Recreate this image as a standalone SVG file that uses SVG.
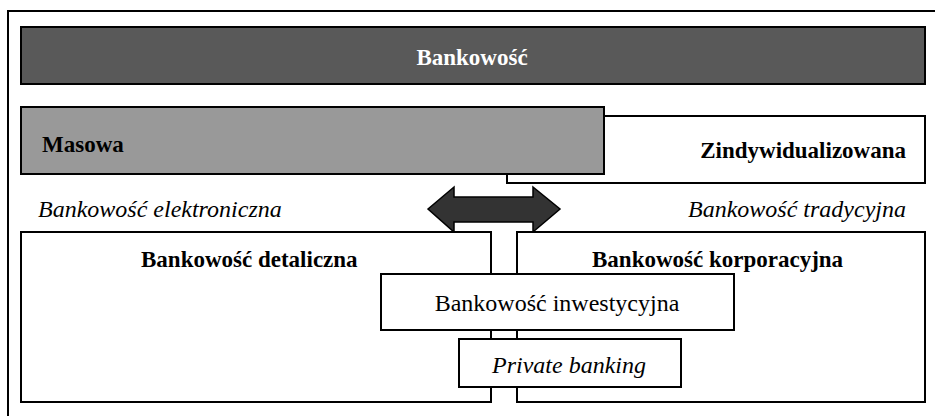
<svg xmlns="http://www.w3.org/2000/svg" width="935" height="416" viewBox="0 0 935 416">
<style>
.box{fill:#fff;stroke:#000;stroke-width:2}
text{font-family:'Liberation Serif','DejaVu Serif',serif}
.b{font-weight:bold;font-size:23px;fill:#000}
.r{font-size:24px;fill:#000}
.i{font-style:italic;font-size:24px;fill:#000}
</style>
<rect x="0" y="0" width="935" height="416" fill="#fff"/>
<rect id="frame" x="8" y="11" width="940" height="420" fill="none" stroke="#000" stroke-width="2"/>
<g id="bankowosc">
<rect x="21" y="27" width="904" height="57" fill="#595959" stroke="#000" stroke-width="2"/>
<text class="b" x="472" y="65" text-anchor="middle" font-family="Liberation Serif, serif" style="fill:#fff">Bankowość</text>
</g>
<g id="zindywidualizowana">
<rect class="box" x="507" y="116" width="418" height="67"/>
<text class="b" x="906" y="158" text-anchor="end" font-family="Liberation Serif, serif">Zindywidualizowana</text>
</g>
<g id="masowa">
<rect x="21" y="107" width="583" height="67" fill="#999" stroke="#000" stroke-width="2"/>
<text class="b" x="42" y="152" font-family="Liberation Serif, serif">Masowa</text>
</g>
<text class="i" x="38" y="217" font-family="Liberation Serif, serif">Bankowość elektroniczna</text>
<text class="i" x="906" y="217" text-anchor="end" font-family="Liberation Serif, serif">Bankowość tradycyjna</text>
<g id="connectors">
<polygon points="428,209 454,187 454,197 533,197 533,187 560,209 533,232 533,222 454,222 454,232" fill="#333" stroke="#000" stroke-width="1.5" stroke-linejoin="miter"/>
</g>
<g id="detaliczna">
<rect class="box" x="21" y="232" width="470" height="170"/>
<text class="b" x="141" y="267" font-family="Liberation Serif, serif">Bankowość detaliczna</text>
</g>
<g id="korporacyjna">
<rect class="box" x="517" y="232" width="408" height="170"/>
<text class="b" x="592" y="267" font-family="Liberation Serif, serif">Bankowość korporacyjna</text>
</g>
<g id="inwestycyjna">
<rect class="box" x="381" y="274" width="353" height="56"/>
<text class="r" x="557" y="311" text-anchor="middle" font-family="Liberation Serif, serif">Bankowość inwestycyjna</text>
</g>
<g id="private">
<rect class="box" x="459" y="339" width="222" height="48"/>
<text class="i" x="569" y="373" text-anchor="middle" font-family="Liberation Serif, serif">Private banking</text>
</g>
</svg>
